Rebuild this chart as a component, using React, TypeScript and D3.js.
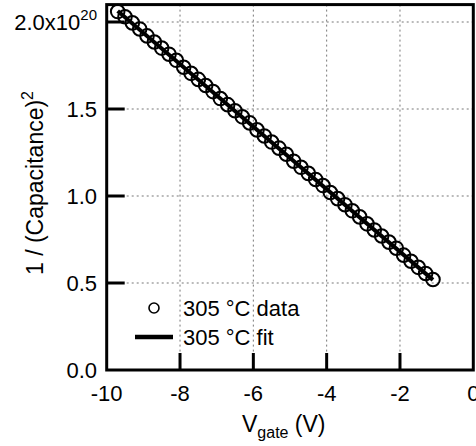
import React from "react";
import * as d3 from "d3";

// 305 °C data, V_gate in volts, 1/C^2 in units of 1e20
const vgate = [
  -9.7, -9.5, -9.3, -9.1, -8.9, -8.7, -8.5, -8.3, -8.1, -7.9, -7.7, -7.5, -7.3, -7.1, -6.9,
  -6.7, -6.5, -6.3, -6.1, -5.9, -5.7, -5.5, -5.3, -5.1, -4.9, -4.7, -4.5, -4.3, -4.1, -3.9,
  -3.7, -3.5, -3.3, -3.1, -2.9, -2.7, -2.5, -2.3, -2.1, -1.9, -1.7, -1.5, -1.3, -1.1,
];
const invCap2 = [
  2.06, 2.03, 1.995, 1.96, 1.92, 1.885, 1.85, 1.815, 1.78, 1.74, 1.705, 1.67, 1.635, 1.6, 1.56,
  1.525, 1.49, 1.455, 1.42, 1.38, 1.345, 1.31, 1.275, 1.24, 1.2, 1.165, 1.13, 1.095, 1.06, 1.02,
  0.985, 0.95, 0.915, 0.88, 0.84, 0.805, 0.77, 0.735, 0.7, 0.66, 0.625, 0.59, 0.555, 0.52,
];
const fitX = [-9.7, -1.1];
const fitY = [2.063, 0.518];

const xTicks = [-10, -8, -6, -4, -2, 0];
const yTicks = [0, 0.5, 1.0, 1.5, 2.0];

const W = 476;
const H = 446;
const font = "Arial, 'Liberation Sans', Helvetica, sans-serif";

export default function App() {
  const x = d3.scaleLinear().domain([-10, 0]).range([106.7, 473.3]);
  const y = d3.scaleLinear().domain([0, 2.1]).range([370, 4.6]);

  const line = d3
    .line<number>()
    .x((d, i) => x(fitX[i]))
    .y((d) => y(d));

  const left = x(-10);
  const right = x(0);
  const top = y(2.1);
  const bottom = y(0);

  return (
    <div style={{ position: "fixed", left: 0, top: 0 }}>
      <svg width={W} height={H} style={{ display: "block", fontFamily: font }}>
        <rect width={W} height={H} fill="#fff" />

        {/* grid */}
        {xTicks.slice(1, -1).map((t) => (
          <line key={"gx" + t} x1={x(t)} x2={x(t)} y1={top} y2={bottom}
            stroke="#777" strokeWidth={1} strokeDasharray="2,3" />
        ))}
        {yTicks.slice(1).map((t) => (
          <line key={"gy" + t} x1={left} x2={right} y1={y(t)} y2={y(t)}
            stroke="#777" strokeWidth={1} strokeDasharray="2,3" />
        ))}

        {/* ticks */}
        {xTicks.slice(1, -1).map((t) => (
          <line key={"tx" + t} x1={x(t)} x2={x(t)} y1={bottom} y2={bottom - 17}
            stroke="#000" strokeWidth={3} />
        ))}
        {yTicks.slice(1).map((t) => (
          <line key={"ty" + t} x1={left} x2={left + 18} y1={y(t)} y2={y(t)}
            stroke="#000" strokeWidth={3} />
        ))}

        {/* data */}
        {vgate.map((v, i) => (
          <circle key={i} cx={x(v)} cy={y(invCap2[i])} r={6.8}
            fill="none" stroke="#000" strokeWidth={2} />
        ))}
        <path d={line(fitY) || ""} fill="none" stroke="#000" strokeWidth={4} />

        {/* frame */}
        <rect x={left} y={top} width={right - left} height={bottom - top}
          fill="none" stroke="#000" strokeWidth={3} />

        {/* tick labels */}
        {xTicks.map((t) => (
          <text key={"lx" + t} x={x(t)} y={401} fontSize={22} textAnchor="middle">
            {t}
          </text>
        ))}
        {yTicks.map((t) =>
          t === 2 ? (
            <text key={"ly" + t} x={97} y={y(t) + 8} fontSize={22} textAnchor="end">
              2.0x10<tspan dy={-10} fontSize={15}>20</tspan>
            </text>
          ) : (
            <text key={"ly" + t} x={97} y={y(t) + 8} fontSize={22} textAnchor="end">
              {t.toFixed(1)}
            </text>
          )
        )}

        {/* axis titles */}
        <text x={242} y={432} fontSize={23}>
          V<tspan dy={6} fontSize={16}>gate</tspan>
          <tspan dy={-6}> (V)</tspan>
        </text>
        <text transform="translate(43,183) rotate(-90)" fontSize={23} textAnchor="middle">
          1 / (Capacitance)<tspan dy={-10} fontSize={16}>2</tspan>
        </text>

        {/* legend */}
        <circle cx={154} cy={308} r={5} fill="none" stroke="#000" strokeWidth={1.6} />
        <text x={183} y={316} fontSize={22}>305 °C data</text>
        <line x1={135} x2={173} y1={337} y2={337} stroke="#000" strokeWidth={4.5} />
        <text x={183} y={345} fontSize={22}>305 °C fit</text>
      </svg>
    </div>
  );
}
